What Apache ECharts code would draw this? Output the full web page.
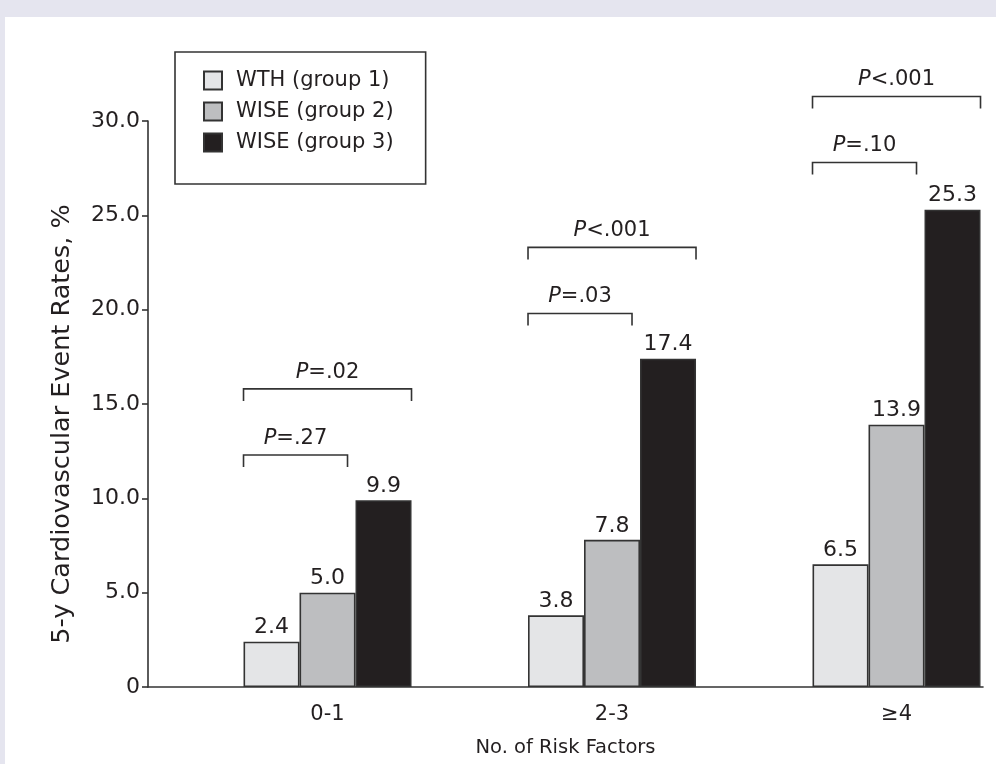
<!DOCTYPE html>
<html>
<head>
<meta charset="utf-8">
<script src="https://cdn.jsdelivr.net/npm/echarts@6/dist/echarts.min.js"></script>
<style>
  html, body { margin: 0; padding: 0; background: #e5e5ef; width: 996px; height: 764px; overflow: hidden; }
  #chart { position: absolute; left: 5px; top: 17px; width: 991px; height: 747px; background: #ffffff; }
</style>
</head>
<body>
<div id="chart"></div>
<script>
// data
var categories = ['0-1', '2-3', '\u22654'];
var groupNames = ['WTH (group 1)', 'WISE (group 2)', 'WISE (group 3)'];
var wth = [2.4, 3.8, 6.5];
var wiseG2 = [5.0, 7.8, 13.9];
var wiseG3 = [9.9, 17.4, 25.3];

// P value brackets: group 1 vs 2 (low) and group 1 vs 3 (high)
var pLowText = ['=.27', '=.03', '=.10'];
var pLowLevel = [12.3, 19.8, 27.8];
var pHighText = ['=.02', '<.001', '<.001'];
var pHighLevel = [15.8, 23.3, 31.3];

var FONT = 'DejaVu Sans';
var INK = '#231f20';
var BAR_W = 56;

var chart = echarts.init(document.getElementById('chart'));

function barData(vals) {
    return vals.map(function (v, i) { return [i + 1, v]; });
}

// bracket + P label, anchored on the group centre through the axes
function bracketSeries(levels, texts, short) {
    return {
        type: 'custom',
        clip: false,
        silent: true,
        data: levels.map(function (v, i) { return [i + 1, v]; }),
        renderItem: function (params, api) {
            var c = api.coord([api.value(0), api.value(1)]);
            var left = c[0] - 1.5 * BAR_W;
            var right = short ? c[0] + 0.5 * BAR_W - 8 : c[0] + 1.5 * BAR_W;
            var y = c[1];
            return {
                type: 'group',
                children: [
                    {
                        type: 'polyline',
                        shape: { points: [[left, y + 12], [left, y], [right, y], [right, y + 12]] },
                        style: { stroke: '#333', lineWidth: 1.6, fill: null }
                    },
                    {
                        type: 'text',
                        x: (left + right) / 2,
                        y: y - 6,
                        style: {
                            text: '{i|P}{n|' + texts[params.dataIndex] + '}',
                            align: 'center',
                            verticalAlign: 'bottom',
                            rich: {
                                i: { fontFamily: FONT, fontSize: 21, fontStyle: 'italic', fill: INK },
                                n: { fontFamily: FONT, fontSize: 21, fill: INK }
                            }
                        }
                    }
                ]
            };
        }
    };
}

var labelCfg = {
    show: true, position: 'top', distance: 3, color: INK, fontFamily: FONT, fontSize: 22,
    formatter: function (p) { return p.value[1].toFixed(1); }
};

var option = {
    animation: false,
    textStyle: { fontFamily: FONT, color: INK },
    grid: { left: 143, right: 13, top: 104, bottom: 77 },
    legend: {
        orient: 'vertical',
        left: 170,
        top: 35,
        data: groupNames,
        icon: 'rect',
        itemWidth: 18,
        itemHeight: 18,
        itemGap: 10,
        padding: [18, 32, 31, 28],
        borderColor: '#333',
        borderWidth: 1.6,
        textStyle: { fontFamily: FONT, fontSize: 21, color: INK, padding: [0, 0, 0, 9] }
    },
    xAxis: {
        type: 'value',
        min: 0.369,
        max: 3.304,
        splitLine: { show: false },
        axisLine: { show: true, lineStyle: { color: '#333', width: 1.6 } },
        axisTick: { show: false },
        axisLabel: {
            customValues: [1, 2, 3],
            formatter: function (v) { return categories[Math.round(v) - 1]; },
            fontFamily: FONT, fontSize: 21, color: INK, margin: 17
        },
        name: 'No. of Risk Factors',
        nameLocation: 'middle',
        nameGap: 51,
        nameTextStyle: { fontFamily: FONT, fontSize: 19.5, color: INK }
    },
    yAxis: {
        type: 'value',
        min: 0,
        max: 30,
        interval: 5,
        splitLine: { show: false },
        axisLine: { show: true, lineStyle: { color: '#333', width: 1.6 } },
        axisTick: { show: true, length: 6, lineStyle: { color: '#333', width: 1.6 } },
        axisLabel: {
            formatter: function (v) { return v === 0 ? '0' : v.toFixed(1); },
            fontFamily: FONT, fontSize: 22, color: INK, margin: 8
        },
        name: '5-y Cardiovascular Event Rates, %',
        nameLocation: 'middle',
        nameGap: 73,
        nameTextStyle: { fontFamily: FONT, fontSize: 25.5, color: INK, padding: [0, 40, 0, 0] }
    },
    series: [
        {
            name: groupNames[0], type: 'bar', data: barData(wth), barWidth: BAR_W, barGap: '0%',
            itemStyle: { color: '#e4e5e7', borderColor: '#333', borderWidth: 1.6 },
            label: labelCfg
        },
        {
            name: groupNames[1], type: 'bar', data: barData(wiseG2), barWidth: BAR_W, barGap: '0%',
            itemStyle: { color: '#bdbec0', borderColor: '#333', borderWidth: 1.6 },
            label: labelCfg
        },
        {
            name: groupNames[2], type: 'bar', data: barData(wiseG3), barWidth: BAR_W, barGap: '0%',
            itemStyle: { color: INK, borderColor: '#333', borderWidth: 1.6 },
            label: labelCfg
        },
        bracketSeries(pLowLevel, pLowText, true),
        bracketSeries(pHighLevel, pHighText, false)
    ]
};

chart.setOption(option);
</script>
</body>
</html>
